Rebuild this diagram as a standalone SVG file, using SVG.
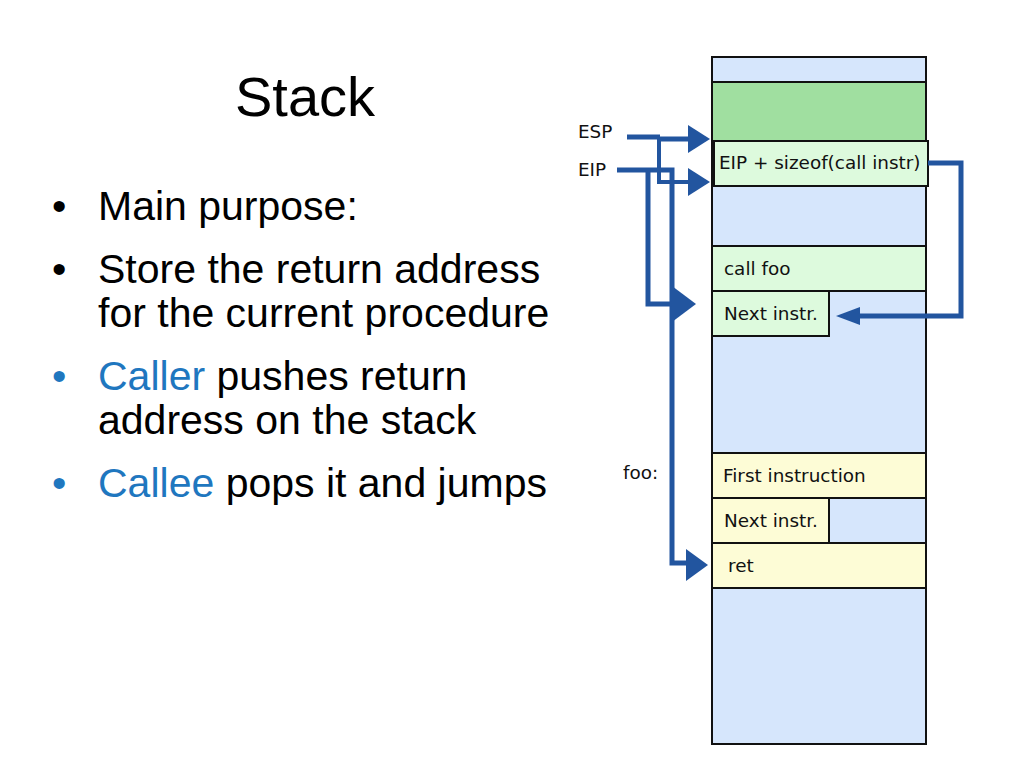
<svg xmlns="http://www.w3.org/2000/svg" width="1024" height="768" viewBox="0 0 1024 768">
<style>
.t{font-family:"Liberation Sans",Arial,sans-serif;font-size:41px;fill:#000}
.b{fill:#1f77bf}
.c{font-family:"DejaVu Sans",sans-serif;font-size:18.4px;fill:#111}
.cell{stroke:#111;stroke-width:2}
.bl{fill:#d6e6fc}.g{fill:#a0dfa0}.lg{fill:#ddfadd}.y{fill:#fdfcd6}
.w{fill:none;stroke:#22559f;stroke-width:5}
.ah{fill:#22559f}
</style>
<rect width="1024" height="768" fill="#fff"/>
<text x="305" y="116" text-anchor="middle" font-family="Liberation Sans,Arial,sans-serif" font-size="56">Stack</text>
<g class="t">
<text x="52" y="220">•</text><text x="98" y="220">Main purpose:</text>
<text x="52" y="283">•</text><text x="98" y="283">Store the return address</text>
<text x="98" y="327">for the current procedure</text>
<text x="52" y="390" class="b">•</text><text x="98" y="390"><tspan class="b">Caller</tspan> pushes return</text>
<text x="98" y="434">address on the stack</text>
<text x="52" y="497" class="b">•</text><text x="98" y="497"><tspan class="b">Callee</tspan> pops it and jumps</text>
</g>
<g id="stack">
<rect class="cell bl" x="712" y="57" width="214" height="687"/>
<rect class="cell g" x="712" y="82" width="214" height="59"/>
<g id="n-eip"><rect class="cell lg" x="714" y="141" width="214" height="45"/><text class="c" x="719" y="169">EIP + sizeof(call instr)</text></g>
<g id="n-call"><rect class="cell lg" x="712" y="246" width="214" height="45"/><text class="c" x="724" y="275">call foo</text></g>
<g id="n-next1"><rect class="cell lg" x="712" y="291" width="117" height="45"/><text class="c" x="724" y="320">Next instr.</text></g>
<g id="n-first"><rect class="cell y" x="712" y="453" width="214" height="45"/><text class="c" x="723" y="482">First instruction</text></g>
<g id="n-next2"><rect class="cell y" x="712" y="498" width="117" height="45"/><text class="c" x="724" y="527">Next instr.</text></g>
<g id="n-ret"><rect class="cell y" x="712" y="543" width="214" height="45"/><text class="c" x="728" y="572">ret</text></g>
</g>
<text class="c" x="578" y="138">ESP</text>
<text class="c" x="578" y="176">EIP</text>
<text class="c" x="623" y="479">foo:</text>
<g id="connectors">
<path class="w" d="M627 137H660M660 139H690"/>
<path class="w" style="stroke-width:4" d="M659 137V182H690"/>
<path class="w" d="M617 170H672V563H690"/>
<path class="w" d="M648 170V304H680"/>
<path class="w" d="M928 163H961V316H855"/>
<polygon class="ah" points="688,125 710,139 688,153"/>
<polygon class="ah" points="688,168 710,182 688,196"/>
<polygon class="ah" points="672,286 696,304 672,322"/>
<polygon class="ah" points="686,549 708,565 686,581"/>
<polygon class="ah" points="860,307 836,316 860,325"/>
</g>
</svg>
